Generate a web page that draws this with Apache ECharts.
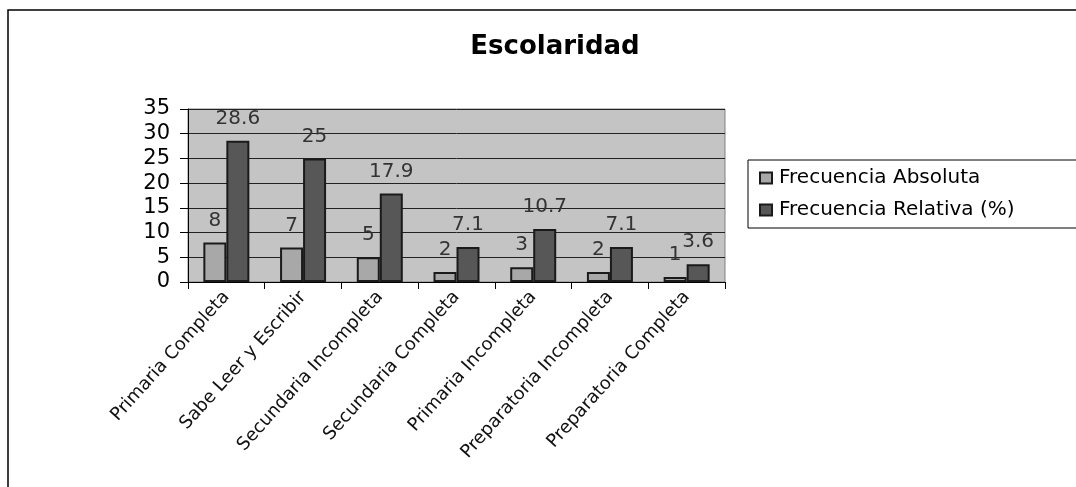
<!DOCTYPE html>
<html>
<head>
<meta charset="utf-8">
<script src="https://cdn.jsdelivr.net/npm/echarts@6/dist/echarts.min.js"></script>
<style>
  html, body { margin: 0; padding: 0; background: #fff; }
  #chart { width: 1076px; height: 487px; }
</style>
</head>
<body>
<div id="chart"></div>
<script>
var categories = ['Primaria Completa', 'Sabe Leer y Escribir', 'Secundaria Incompleta',
  'Secundaria Completa', 'Primaria Incompleta', 'Preparatoria Incompleta', 'Preparatoria Completa'];
var absoluta = [8, 7, 5, 2, 3, 2, 1];
var relativa = [28.6, 25, 17.9, 7.1, 10.7, 7.1, 3.6];
var yTicks = [0, 5, 10, 15, 20, 25, 30, 35];

var font = 'DejaVu Sans, Verdana, sans-serif';

var option = {
  animation: false,
  backgroundColor: '#fff',
  title: {
    text: 'Escolaridad',
    left: 550,
    textAlign: 'center',
    top: 29,
    textStyle: { fontFamily: font, fontSize: 26, fontWeight: 'bold', color: '#000' }
  },
  graphic: [{
    type: 'polyline',
    shape: { points: [[8, 487], [8, 10], [1076, 10]] },
    style: { stroke: '#000', lineWidth: 1.5, fill: null }
  }],
  legend: {
    orient: 'vertical',
    left: 748,
    top: 160,
    padding: [8, 80, 8, 11],
    itemWidth: 12,
    itemHeight: 11,
    itemGap: 12,
    borderColor: '#000',
    borderWidth: 1,
    icon: 'rect',
    textStyle: { fontFamily: font, fontSize: 20, color: '#000', padding: [0, 0, 0, 2] },
    data: ['Frecuencia Absoluta', 'Frecuencia Relativa (%)']
  },
  grid: {
    left: 188, right: 351, top: 109, bottom: 205,
    show: true,
    backgroundColor: '#c4c4c4',
    borderColor: '#808080',
    borderWidth: 1
  },
  xAxis: {
    type: 'category',
    data: categories,
    axisLine: { lineStyle: { color: '#000', width: 1 } },
    axisTick: { show: true, length: 7, lineStyle: { color: '#000' } },
    axisLabel: {
      rotate: 48, fontFamily: font, fontSize: 18, color: '#111', margin: 12,
      interval: 0
    }
  },
  yAxis: {
    type: 'value',
    min: yTicks[0],
    max: yTicks[yTicks.length - 1],
    interval: 5,
    axisLine: { show: true, lineStyle: { color: '#000' } },
    axisTick: { show: true, length: 8, lineStyle: { color: '#000' } },
    axisLabel: { fontFamily: font, fontSize: 21, color: '#000', margin: 18 },
    splitLine: { lineStyle: { color: '#222', width: 1 } }
  },
  series: [{
    name: 'Frecuencia Absoluta',
    type: 'bar',
    data: absoluta,
    barWidth: 23,
    barGap: '0%',
    itemStyle: { color: '#a8a8a8', borderColor: '#1a1a1a', borderWidth: 2 },
    label: { show: true, position: 'top', distance: 12, fontFamily: font, fontSize: 20, color: '#333' }
  }, {
    name: 'Frecuencia Relativa (%)',
    type: 'bar',
    data: relativa,
    barWidth: 23,
    itemStyle: { color: '#575757', borderColor: '#1a1a1a', borderWidth: 2 },
    label: { show: true, position: 'top', distance: 12, fontFamily: font, fontSize: 20, color: '#333' }
  }]
};

var myChart = echarts.init(document.getElementById('chart'));
myChart.setOption(option);
</script>
</body>
</html>
